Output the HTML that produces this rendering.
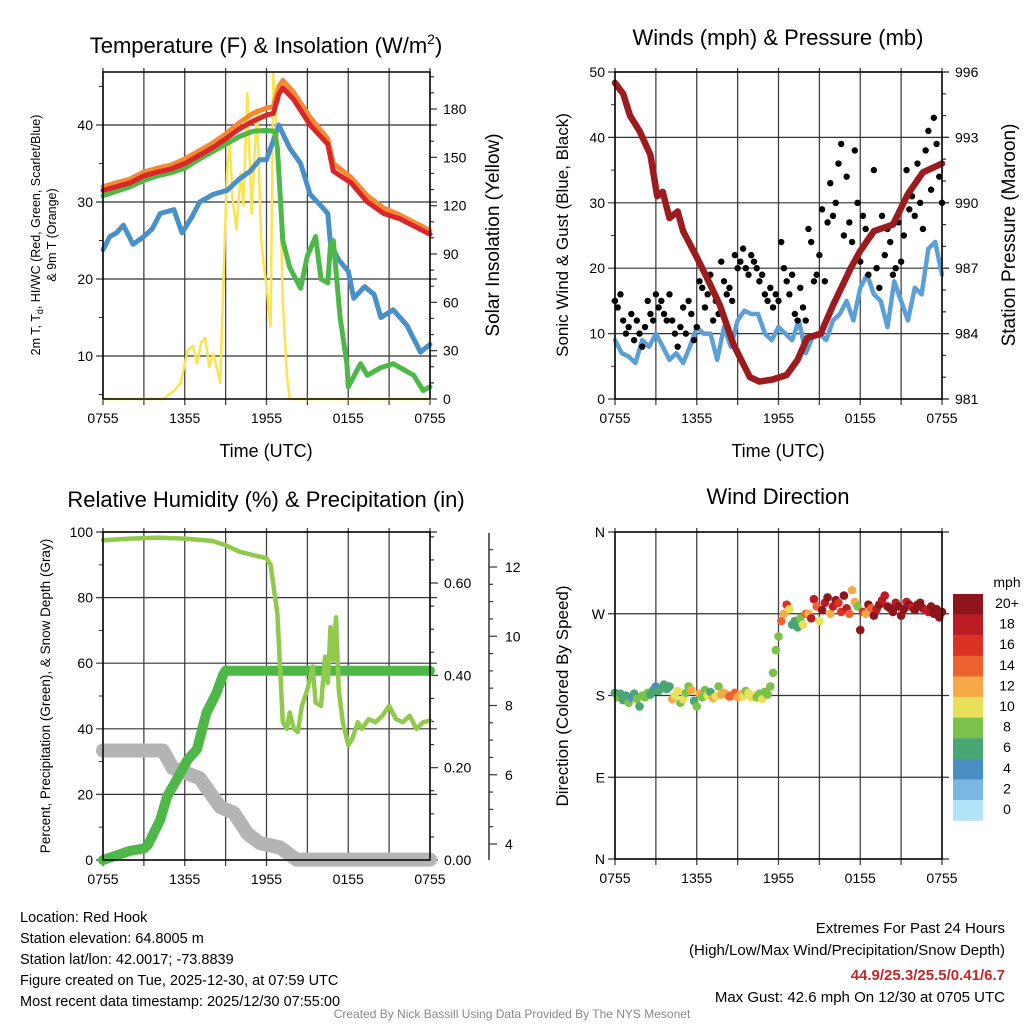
<!DOCTYPE html>
<html><head><meta charset="utf-8"><style>
html,body{margin:0;padding:0;background:#fff}
svg{display:block;font-family:"Liberation Sans",sans-serif}
</style></head><body>
<svg id="s" width="1024" height="1024" viewBox="0 0 1024 1024" xmlns="http://www.w3.org/2000/svg"></svg>
<script>
// ===== Data (hour offset from 0755 UTC) =====
const timeTickLabels = ["0755","1355","1955","0155","0755"];
// Panel 1
const tempHours = [0,1,2,3,4,5,6,7,8,9,10,11,12,12.5,12.9,13.2,14,15.2,16.5,16.9,18.2,19.4,20.6,21.8,24];
const tempRed =   [31.5,32,32.5,33.4,33.9,34.3,35,36,37,38.2,39.5,40.5,41.3,41.5,44,44.8,43.3,40,37.5,34,32.5,30,28.5,27.8,25.8];
const tempOrange =[32,32.5,33,33.9,34.4,34.8,35.6,36.6,37.6,38.8,40.3,41.5,42.2,42.4,45,45.8,44.2,41,38.2,35,33.2,30.8,29.2,28.3,26.3];
const hiHours = [0,1,2,3,4,5,6,7,8,9,10,11,12,12.6,12.8,13.2,13.7,14.5,15,15.6,16,16.5,16.7,16.9,17.4,17.9,18,18.9,19.4,20.4,21.3,22.8,23.5,24];
const hiGreen = [30.8,31.4,32,32.8,33.4,33.8,34.4,35.5,36.5,37.5,38.5,39.2,39.3,39.2,37,25,21.5,18.8,23,25.5,20,19.5,24.5,25,15,9,6,9,7.5,8.5,9,7.5,5.5,6];
const dewHours = [0,0.5,1,1.5,2.2,3,3.6,4.2,5.2,5.8,6.5,7.1,8.1,9.1,10,10.8,11.5,12,12.9,13.7,14.5,15.2,16,16.5,16.7,17.3,18,18.4,19.2,19.9,20.4,21.3,22.3,23.3,24];
const dewBlue = [23.8,25.5,26,27,24.5,25.5,26.5,28.5,29,26,28,30,31,31.5,33,34,35.5,35.5,40,37,35,31,29.5,28.5,24.5,22.5,21,17.5,19,18,15,16,14,10.5,11.5];
const solarHours = [0,4.5,4.7,5.2,5.7,6.2,6.6,6.9,7.2,7.5,7.8,8.1,8.6,8.9,9.1,9.3,9.5,9.8,10.1,10.3,10.6,10.9,11.3,11.6,11.8,12,12.3,12.5,12.8,13,13.2,13.5,13.7,24];
const solarYellow = [0,0,2,5,10,30,33,22,35,38,20,28,10,90,140,160,125,105,140,120,190,115,180,100,83,70,45,202,160,130,60,15,0,0];
// Panel 2
const windHours = [0,0.5,1,1.5,2,2.5,3,3.5,4,4.5,5,5.5,6,6.5,7,7.5,8,8.5,9,9.5,10,10.5,11,11.5,12,12.5,13,13.5,14,14.5,15,15.5,16,16.5,17,17.5,18,18.5,19,19.5,20,20.5,21,21.5,22,22.5,23,23.5,24];
const windBlue = [9,7,6.5,5.5,9,8,10,8,6,7,5.5,8,11,10,10,6,11,8,12,13.5,13,13,10,9,11,10,9,12,7,9.5,10,9,12,13,15,12,17,19,16,15,11,18,15,12,17,16,23,24,19];
const pressureHours = [0,0.6,1.1,1.8,2.6,3.1,3.5,4.0,4.6,5,6,6.8,7.7,8.7,9.9,10.6,11.6,12.6,13.4,14.1,15.1,16,17.3,18,19,20.4,21.5,22.6,24];
const pressure = [995.5,995,994,993.3,992.2,990.3,990.5,989.3,989.6,988.7,987.5,986.5,985.3,983.5,982,981.8,981.9,982.1,982.8,983.8,984,985.3,987,987.8,988.7,989,990.4,991.4,991.8];
const gustBlack = [15,14,16,12,10,11,13,9,12,10,8, 11,15,13,12,16,14,15,13,12,16, 12,10,8,11,14,10,15,13,9,11, 18,17,14,16,19,12,15,13,21,18, 16,17,15,22,20,21,23,20,19,22, 21,20,18,19,16,15,17,14,16,15, 24,20,18,16,19,13,12,17,14,12, 26,24,18,19,22,29,18,27,33,28, 30,36,39,25,34,27,24,38,30,21, 28,26,19,25,35,20,17,28,22,26, 24,19,20,27,21,25,35,29,31,28, 36,30,26,38,41,32,43,39,34,30];
// Panel 3
const rhHours = [0,2,4,6,8,9,10,11,12,12.3,12.8,13.2,13.5,13.7,14,14.3,14.6,15,15.4,15.6,16,16.3,16.5,16.7,16.9,17.1,17.3,17.6,18,18.3,18.7,19,19.5,20,20.5,21,21.5,22,22.5,23,23.5,24];
const rhGreen = [97.5,98,98.3,98,97.3,96,94,93,92,90,75,42,40,45,40,39,47,52,59,48,47,62,54,71,61,74,52,42,35,37,42,40,43,42,44,47,43,42,44,40,42,42.5];
const precipHours = [0,1,2,3,3.3,4.2,4.7,5.4,6.2,6.9,7.6,8.3,8.8,9,24];
const precip = [0,0.01,0.02,0.025,0.033,0.087,0.137,0.174,0.217,0.24,0.32,0.36,0.40,0.41,0.41];
const snowHours = [0,4.4,5.1,7.1,8.6,9.6,10.6,11.5,13,14.2,24];
const snowDepth = [6.7,6.7,6.2,5.9,5.07,4.9,4.3,4.03,3.9,3.55,3.55];
// Panel 4
const dirDeg = [183,178,182,175,180,172,178,182,176,168,180, 178,183,181,186,190,185,188,192,187,190, 176,180,185,172,176,183,190,186,174,168, 182,178,186,180,184,177,179,190,181,183, 181,179,180,183,178,181,179,185,183,178, 180,178,182,176,184,181,190,205,230,245, 262,270,280,275,258,262,255,265,258,270, 270,265,286,278,262,274,282,288,270,278, 285,282,272,290,276,270,296,283,278,252, 272,270,280,276,268,275,280,285,290,278, 276,272,282,278,268,275,283,280,277,274, 280,282,276,274,272,278,270,275,266,272];
const dirSpeed = [7,8,6,6,6,8,5,7,8,6,9, 9,8,7,6,5,6,6,6,7,6, 12,11,10,9,10,8,8,12,7,9, 12,8,9,10,6,12,10,9,13,12, 13,14,14,14,12,12,10,9,10,10, 10,8,9,10,8,9,8,8,8,8, 14,12,16,10,6,6,7,8,10,14, 12,18,19,14,10,20,18,20,12,18, 20,17,16,20,18,14,13,12,8,20, 16,12,20,14,20,18,20,18,18,20, 20,20,18,20,20,20,19,20,18,20, 20,20,20,18,18,20,20,20,20,20];
const legendLabels = ["20+","18","16","14","12","10","8","6","4","2","0"];
const legendColors = ["#8e1519","#bc1c24","#dc3226","#ee6230","#f5a947","#e6e05a","#7cc24a","#4aa673","#4a8fc4","#7ab8e3","#b3e3f7"];

const NS="http://www.w3.org/2000/svg";
const svg=document.getElementById('s');
function mk(tag,attrs,parent){const e=document.createElementNS(NS,tag);for(const k in attrs)e.setAttribute(k,attrs[k]);(parent||svg).appendChild(e);return e;}
function txt(x,y,s,size,anchor,parent,extra){const e=mk('text',Object.assign({x:x,y:y,'font-size':size,'text-anchor':anchor||'start',fill:'#000'},extra||{}),parent);e.textContent=s;return e;}
function scale(d0,d1,r0,r1){return v=>r0+(v-d0)/(d1-d0)*(r1-r0);}
function pathD(xs,ys,fx,fy){return xs.map((h,i)=>(i?'L':'M')+fx(h).toFixed(1)+','+fy(ys[i]).toFixed(1)).join('');}

function frame(g,x0,x1,yt,yb){
  for(let h=0;h<=24;h+=3){const x=scale(0,24,x0,x1)(h);
    const l=mk('line',{x1:x,x2:x,y1:yt-4,y2:yb+6,stroke:'#444','stroke-width':1.3},g);
    
    }
  timeTickLabels.forEach((s,i)=>{const t=txt(scale(0,24,x0,x1)(i*6),yb+24,s,14,'middle',g);
    
    });
}
function border(g,x0,x1,yt,yb){const r=mk('rect',{x:x0,y:yt,width:x1-x0,height:yb-yt,fill:'none',stroke:'#000','stroke-width':1.5},g);
  
  }
function hgrid(g,x0,x1,y,lbl,side){const l=mk('line',{x1:x0-7,x2:x1+(side?0:7),y1:y,y2:y,stroke:'#333','stroke-width':1.2},g);
  
  
  if(lbl!==null){const t=txt(x0-10,y+5,lbl,14,'end',g);
  
  }}
function rtick(g,x,y,len,lbl){mk('line',{x1:x,x2:x+len,y1:y,y2:y,stroke:'#333','stroke-width':1.2},g);
  if(lbl!==null){const t=txt(x+len+6,y+5,lbl,14,'start',g);
  
  }}
function line(g,xs,ys,fx,fy,color,w,name){const p=mk('path',{d:pathD(xs,ys,fx,fy),fill:'none',stroke:color,'stroke-width':w,'stroke-linejoin':'round','stroke-linecap':'round'},g);
  
  return p;}

// ===== Panel 1 =====
(function(){
  const g=mk('g',{});
  
  
  const x0=103,x1=430,yt=72,yb=399;
  const fx=scale(0,24,x0,x1), fy=scale(10,40,356,125), fs=scale(0,180,399,109);
  frame(g,x0,x1,yt,yb);
  [10,20,30,40].forEach(v=>hgrid(g,x0,x1,fy(v),String(v)));
  [5,15,25,35,45].forEach(v=>mk('line',{x1:x0-4,x2:x0,y1:fy(v),y2:fy(v),stroke:'#333'},g));
  for(let v=0;v<=200;v+=10){rtick(g,x1,fs(v),v%30===0?7:4,v%30===0?String(v):null);}
  line(g,solarHours,solarYellow,fx,fs,'#fbe44f',2.5,'solar-insolation-line');
  line(g,dewHours,dewBlue,fx,fy,'#4a90c8',5,'dewpoint-line');
  line(g,hiHours,hiGreen,fx,fy,'#4db848',5,'heat-index-wind-chill-line');
  line(g,tempHours,tempOrange,fx,fy,'#f58a33',5,'9m-temperature-line');
  line(g,tempHours,tempRed,fx,fy,'#d9262a',5,'2m-temperature-line');
  border(g,x0,x1,yt,yb);
  const t1=txt(266,53,'',22,'middle',g);
  
  
  t1.innerHTML='Temperature (F) &amp; Insolation (W/m<tspan font-size="14" dy="-9">2</tspan><tspan dy="9">)</tspan>';
  const xt=txt(266,457,'Time (UTC)',18,'middle',g);
  
  
  const yl=txt(0,0,'',12.5,'middle',g,{transform:'translate(40,235) rotate(-90)'});
  
  
  yl.innerHTML='2m T, T<tspan font-size="9" dy="3">d</tspan><tspan dy="-3">, HI/WC (Red, Green, Scarlet/Blue)</tspan>';
  const yl2=txt(0,0,'& 9m T (Orange)',12.5,'middle',g,{transform:'translate(56,235) rotate(-90)'});
  
  
  const yr=txt(0,0,'Solar Insolation (Yellow)',19,'middle',g,{transform:'translate(499,235) rotate(-90)'});
  
  
})();

// ===== Panel 2 =====
(function(){
  const g=mk('g',{});
  
  
  const x0=615,x1=942,yt=72,yb=399;
  const fx=scale(0,24,x0,x1), fy=scale(0,50,399,72), fp=scale(981,996,399,72);
  frame(g,x0,x1,yt,yb);
  [0,10,20,30,40,50].forEach(v=>hgrid(g,x0,x1,fy(v),String(v)));
  [5,15,25,35,45].forEach(v=>mk('line',{x1:x0-4,x2:x0,y1:fy(v),y2:fy(v),stroke:'#333'},g));
  for(let v=981;v<=996;v++){rtick(g,x1,fp(v),(v-981)%3===0?7:4,(v-981)%3===0?String(v):null);}
  line(g,windHours,windBlue,fx,fy,'#5b9fd6',4.5,'sonic-wind-line');
  gustBlack.forEach((v,i)=>{const c=mk('circle',{cx:fx(i*0.2),cy:fy(v),r:3.2,fill:'#000'},g);
    
    });
  line(g,pressureHours,pressure,fx,fp,'#9b1b1e',6.5,'station-pressure-line');
  border(g,x0,x1,yt,yb);
  const t=txt(778,45,'Winds (mph) & Pressure (mb)',22,'middle',g);
  
  
  const xt=txt(778,457,'Time (UTC)',18,'middle',g);
  
  
  const yl=txt(0,0,'Sonic Wind & Gust (Blue, Black)',17,'middle',g,{transform:'translate(568,235) rotate(-90)'});
  
  
  const yr=txt(0,0,'Station Pressure (Maroon)',19,'middle',g,{transform:'translate(1015,235) rotate(-90)'});
  
  
})();

// ===== Panel 3 =====
(function(){
  const g=mk('g',{});
  
  
  const x0=103,x1=430,yt=532,yb=860;
  const fx=scale(0,24,x0,x1), fy=scale(0,100,860,532), fpr=scale(0,0.6,860,583), fsn=scale(4,12,844,567);
  frame(g,x0,x1,yt,yb);
  [0,20,40,60,80,100].forEach(v=>hgrid(g,x0,x1,fy(v),String(v)));
  [10,30,50,70,90].forEach(v=>mk('line',{x1:x0-4,x2:x0,y1:fy(v),y2:fy(v),stroke:'#333'},g));
  for(let i=0;i<=14;i++){const v=i*0.05;const maj=i%4===0;rtick(g,x1,fpr(v),maj?8:4,maj?v.toFixed(2):null);}
  mk('line',{x1:489,x2:489,y1:533,y2:860,stroke:'#333','stroke-width':1.5},g);
  for(let v=3.5;v<=13;v+=0.5){const y=fsn(v);if(y<533||y>860)continue;const maj=(v%2===0);
    mk('line',{x1:489,x2:489+(maj?8:4),y1:y,y2:y,stroke:'#333','stroke-width':1.2},g);
    if(maj){const t=txt(505,y+5,String(v),14,'start',g);
      
      }}
  line(g,snowHours,snowDepth,fx,fsn,'#b4b4b4',14,'snow-depth-line');
  line(g,precipHours,precip,fx,fpr,'#4db848',10,'precipitation-line');
  line(g,rhHours,rhGreen,fx,fy,'#8fca4c',4.5,'relative-humidity-line');
  border(g,x0,x1,yt,yb);
  const t=txt(266,507,'Relative Humidity (%) & Precipitation (in)',22,'middle',g);
  
  
  const yl=txt(0,0,'Percent, Precipitation (Green), & Snow Depth (Gray)',13.5,'middle',g,{transform:'translate(50,696) rotate(-90)'});
  
  
})();

// ===== Panel 4 =====
(function(){
  const g=mk('g',{});
  
  
  const x0=615,x1=942,yt=532,yb=859;
  const fx=scale(0,24,x0,x1), fy=scale(0,360,859,532);
  frame(g,x0,x1,yt,yb);
  [[0,'N'],[90,'E'],[180,'S'],[270,'W'],[360,'N']].forEach(a=>hgrid(g,x0,x1,fy(a[0]),a[1]));
  const colorFor=s=>legendColors[10-Math.max(0,Math.min(10,Math.floor(s/2)))];
  dirDeg.forEach((d,i)=>{const c=mk('circle',{cx:fx(i*0.2),cy:fy(d),r:4.3,fill:colorFor(dirSpeed[i])},g);
    
    });
  border(g,x0,x1,yt,yb);
  legendColors.forEach((c,i)=>{const r=mk('rect',{x:953,y:594+i*20.6,width:30,height:20.8,fill:c},g);
    
    
    const t=txt(1007,607+i*20.6+1,legendLabels[i],14,'middle',g);
    
    });
  const u=txt(1007,587,'mph',14,'middle',g);
  
  
  const t=txt(778,504,'Wind Direction',22,'middle',g);
  
  
  const yl=txt(0,0,'Direction (Colored By Speed)',17,'middle',g,{transform:'translate(568,696) rotate(-90)'});
  
  
})();

// ===== Footer text =====
const infoLines=["Location: Red Hook","Station elevation: 64.8005 m","Station lat/lon: 42.0017; -73.8839","Figure created on Tue, 2025-12-30, at 07:59 UTC","Most recent data timestamp: 2025/12/30 07:55:00"];
infoLines.forEach((s,i)=>{const t=txt(20,922+i*21,s,14.5,'start');
  
  });
const r1=txt(1005,933,'Extremes For Past 24 Hours',15,'end');


const r2=txt(1005,955,'(High/Low/Max Wind/Precipitation/Snow Depth)',15,'end');


const r3=txt(1005,980,'44.9/25.3/25.5/0.41/6.7',15,'end',null,{fill:'#c1272d','font-weight':'bold'});


const r4=txt(1005,1002,'Max Gust: 42.6 mph On 12/30 at 0705 UTC',15,'end');


const cr=txt(512,1018,'Created By Nick Bassill Using Data Provided By The NYS Mesonet',12,'middle',null,{fill:'#888'});


</script>
</body></html>
